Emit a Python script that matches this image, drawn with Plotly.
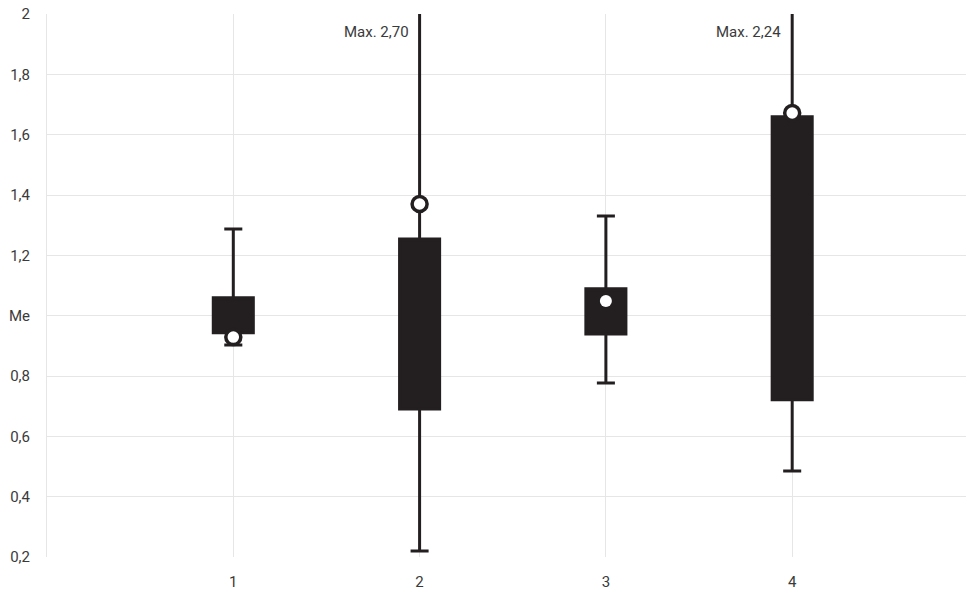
import plotly.graph_objects as go

categories = [1, 2, 3, 4]
q1 = [0.943, 0.691, 0.939, 0.721]
q3 = [1.059, 1.254, 1.089, 1.659]
lower_whisker = [0.903, 0.220, 0.777, 0.485]
upper_whisker = [1.287, 2.70, 1.330, 2.24]
marker_values = [0.929, 1.370, 1.049, 1.672]
marker_outlined = [True, True, False, True]
max_labels = {2: "Max. 2,70", 4: "Max. 2,24"}

y_tickvals = [0.2, 0.4, 0.6, 0.8, 1.0, 1.2, 1.4, 1.6, 1.8, 2.0]
y_ticktext = ["0,2", "0,4", "0,6", "0,8", "Me", "1,2", "1,4", "1,6", "1,8", "2"]

dark = "#231f20"
grid = "#e6e6e6"
textc = "#3a3a3a"

fig = go.Figure()

fig.add_trace(go.Box(
    x=categories,
    q1=q1,
    q3=q3,
    median=q3,
    lowerfence=lower_whisker,
    upperfence=upper_whisker,
    width=0.215,
    whiskerwidth=0.45,
    fillcolor=dark,
    line=dict(color=dark, width=3),
    boxpoints=False,
    hoverinfo="skip",
    showlegend=False,
))

out_x = [c for c, o in zip(categories, marker_outlined) if o]
out_y = [v for v, o in zip(marker_values, marker_outlined) if o]
in_x = [c for c, o in zip(categories, marker_outlined) if not o]
in_y = [v for v, o in zip(marker_values, marker_outlined) if not o]

fig.add_trace(go.Scatter(
    x=out_x, y=out_y, mode="markers",
    marker=dict(size=15, color="white", line=dict(color=dark, width=3.5)),
    hoverinfo="skip", showlegend=False,
))
fig.add_trace(go.Scatter(
    x=in_x, y=in_y, mode="markers",
    marker=dict(size=12, color="white", line=dict(width=0)),
    hoverinfo="skip", showlegend=False,
))

for c, txt in max_labels.items():
    fig.add_annotation(
        x=c, y=1.94, xref="x", yref="y", text=txt, showarrow=False,
        xanchor="right", yanchor="middle", xshift=-9,
        font=dict(family="Roboto", size=15, color=textc),
    )

fig.update_layout(
    width=966, height=590,
    margin=dict(l=47, r=0, t=14, b=33),
    paper_bgcolor="white", plot_bgcolor="white",
    font=dict(family="Roboto", size=15, color=textc),
    xaxis=dict(
        range=[0, 4.933], tickvals=categories, ticktext=[str(c) for c in categories],
        showgrid=True, gridcolor=grid, gridwidth=1, zeroline=False,
        showline=False, ticks="", ticklabelstandoff=14,
    ),
    yaxis=dict(
        range=[0.2, 2.0], tickvals=y_tickvals, ticktext=y_ticktext,
        showgrid=True, gridcolor=grid, gridwidth=1, zeroline=False,
        showline=True, linecolor=grid, linewidth=1, ticks="",
        ticklabelstandoff=13,
    ),
)

fig.write_html("out.html", config={"displayModeBar": False},
               post_script="document.body.style.margin='0';")
